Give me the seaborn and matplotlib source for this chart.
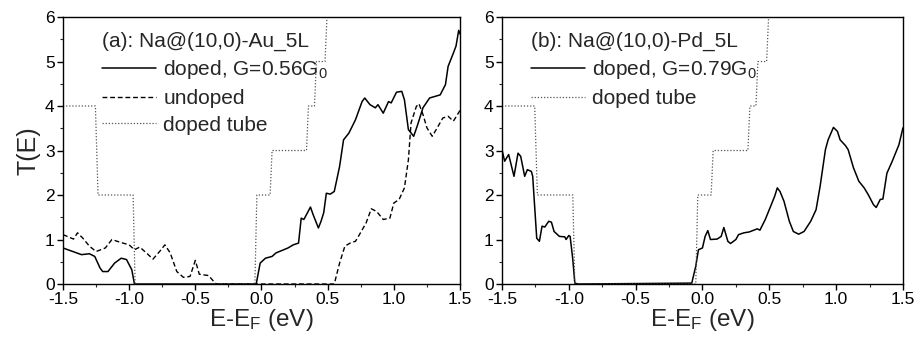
import numpy as np
import matplotlib
matplotlib.use("Agg")
import matplotlib.pyplot as plt
import seaborn as sns
from matplotlib.ticker import MultipleLocator

# --- data ---
# (a) Na@(10,0)-Au_5L, doped
au_doped_x = [-1.50, -1.36, -1.30, -1.26, -1.22, -1.20, -1.16, -1.11, -1.06, -1.02, -0.98, -0.96,
              -0.04, -0.01, 0.03, 0.08, 0.11, 0.16, 0.20, 0.24, 0.28, 0.30, 0.32, 0.34, 0.37, 0.39,
              0.43, 0.45, 0.47, 0.49, 0.52, 0.55, 0.59, 0.62, 0.66, 0.71, 0.76, 0.78, 0.82, 0.86,
              0.88, 0.92, 0.96, 0.98, 1.02, 1.06, 1.08, 1.11, 1.15, 1.18, 1.22, 1.27, 1.35, 1.39,
              1.41, 1.45, 1.47, 1.49, 1.50]
au_doped_y = [0.81, 0.66, 0.68, 0.62, 0.36, 0.28, 0.28, 0.47, 0.58, 0.55, 0.32, 0.00,
              0.00, 0.47, 0.58, 0.62, 0.70, 0.76, 0.81, 0.88, 0.92, 1.48, 1.45, 1.56, 1.73, 1.56,
              1.26, 1.41, 1.60, 2.04, 2.02, 2.08, 2.64, 3.24, 3.39, 3.69, 4.10, 4.18, 4.03, 3.96,
              4.03, 3.84, 4.10, 4.07, 4.31, 4.33, 4.14, 3.47, 3.32, 3.58, 3.96, 4.18, 4.25, 4.48,
              4.89, 5.19, 5.35, 5.70, 5.62]

# (a) undoped
au_undoped_x = [-1.50, -1.46, -1.42, -1.39, -1.35, -1.30, -1.25, -1.18, -1.13, -1.07, -1.00, -0.96,
                -0.92, -0.87, -0.82, -0.77, -0.73, -0.69, -0.64, -0.59, -0.54, -0.50, -0.47, -0.40,
                -0.35, -0.34, 0.55, 0.59, 0.63, 0.67, 0.71, 0.74, 0.79, 0.83, 0.87, 0.92, 0.97,
                1.00, 1.04, 1.08, 1.11, 1.13, 1.17, 1.19, 1.22, 1.25, 1.29, 1.32, 1.37, 1.41,
                1.45, 1.50]
au_undoped_y = [1.11, 1.06, 1.01, 1.15, 1.03, 0.85, 0.73, 0.81, 1.00, 0.94, 0.88, 0.77,
                0.83, 0.70, 0.56, 0.73, 0.88, 0.70, 0.28, 0.15, 0.17, 0.53, 0.22, 0.19,
                0.02, 0.00, 0.00, 0.47, 0.85, 0.92, 0.96, 1.11, 1.37, 1.69, 1.63, 1.45, 1.48,
                1.82, 1.90, 2.16, 2.79, 3.62, 3.99, 4.05, 3.81, 3.51, 3.32, 3.47, 3.73, 3.77,
                3.66, 3.90]

# doped tube (same in both panels)
tube_x = [-1.50, -1.255, -1.235, -0.97, -0.955, -0.05, -0.035, 0.065, 0.08, 0.34, 0.355,
          0.40, 0.415, 0.48, 0.495, 0.51]
tube_y = [4.0, 4.0, 2.0, 2.0, 0.0, 0.0, 2.0, 2.0, 3.0, 3.0, 4.0,
          4.0, 5.0, 5.0, 6.0, 6.5]

# (b) Na@(10,0)-Pd_5L, doped
pd_doped_x = [-1.50, -1.48, -1.45, -1.41, -1.38, -1.36, -1.33, -1.31, -1.28, -1.27, -1.24, -1.22,
              -1.20, -1.18, -1.15, -1.13, -1.11, -1.07, -1.03, -1.02, -1.00, -0.99, -0.97, -0.955,
              -0.93, -0.08, -0.05, -0.03, 0.00, 0.02, 0.04, 0.06, 0.11, 0.14, 0.16, 0.19, 0.21,
              0.25, 0.27, 0.31, 0.35, 0.41, 0.43, 0.47, 0.52, 0.54, 0.56, 0.58, 0.61, 0.65,
              0.68, 0.72, 0.76, 0.81, 0.85, 0.88, 0.92, 0.94, 0.98, 1.01, 1.03, 1.07, 1.09,
              1.13, 1.17, 1.21, 1.24, 1.28, 1.30, 1.33, 1.35, 1.38, 1.42, 1.47, 1.50]
pd_doped_y = [3.02, 2.76, 2.91, 2.42, 2.94, 2.87, 2.42, 2.57, 2.53, 2.42, 1.03, 0.96,
              1.30, 1.28, 1.41, 1.39, 1.18, 1.07, 1.06, 1.00, 1.09, 1.07, 0.55, 0.02,
              0.00, 0.02, 0.40, 0.77, 0.81, 1.07, 1.20, 1.00, 1.01, 1.07, 1.27, 0.96, 0.91,
              1.00, 1.11, 1.15, 1.17, 1.24, 1.21, 1.45, 1.82, 1.97, 2.16, 2.08, 1.86, 1.41,
              1.18, 1.12, 1.18, 1.41, 1.67, 2.19, 3.02, 3.24, 3.52, 3.43, 3.24, 3.11, 3.02,
              2.61, 2.31, 2.16, 2.01, 1.78, 1.72, 1.90, 1.91, 2.49, 2.76, 3.13, 3.51]

panel_titles = ["(a): Na@(10,0)-Au_5L", "(b): Na@(10,0)-Pd_5L"]
x_ticks = [-1.5, -1.0, -0.5, 0.0, 0.5, 1.0, 1.5]

# --- style ---
sns.set_theme(style="ticks")
plt.rcParams["font.family"] = ["Liberation Sans", "DejaVu Sans"]
plt.rcParams["mathtext.default"] = "regular"
plt.rcParams["axes.linewidth"] = 1.0

fig = plt.figure(figsize=(9.18, 3.39), dpi=100)
ax_a = fig.add_axes([0.0686, 0.1622, 0.4325, 0.7876])
ax_b = fig.add_axes([0.5468, 0.1622, 0.4368, 0.7876])

# --- panel (a) ---
sns.lineplot(x=au_doped_x, y=au_doped_y, ax=ax_a, sort=False, estimator=None,
             color="black", linewidth=1.1, label="doped, G=0.56G$_0$")
sns.lineplot(x=au_undoped_x, y=au_undoped_y, ax=ax_a, sort=False, estimator=None,
             color="black", linewidth=1.0, linestyle=(0, (3.5, 2)), label="undoped")
sns.lineplot(x=tube_x, y=tube_y, ax=ax_a, sort=False, estimator=None,
             color="#555555", linewidth=0.9, linestyle=(0, (1, 1.5)), label="doped tube")

# --- panel (b) ---
sns.lineplot(x=pd_doped_x, y=pd_doped_y, ax=ax_b, sort=False, estimator=None,
             color="black", linewidth=1.1, label="doped, G=0.79G$_0$")
sns.lineplot(x=tube_x, y=tube_y, ax=ax_b, sort=False, estimator=None,
             color="#555555", linewidth=0.9, linestyle=(0, (1, 1.5)), label="doped tube")

legend_x = [0.098, 0.072]
for ax, title, lx in zip([ax_a, ax_b], panel_titles, legend_x):
    ax.set_xlim(-1.5, 1.5)
    ax.set_ylim(0, 6)
    ax.yaxis.set_major_locator(MultipleLocator(1))
    ax.yaxis.set_minor_locator(MultipleLocator(0.5))
    ax.set_xticks(x_ticks)
    ax.set_xticklabels([f"{v:.1f}" for v in x_ticks])
    ax.xaxis.set_minor_locator(MultipleLocator(0.25))
    ax.tick_params(which="major", direction="out", length=4.5, width=1, labelsize=12.5,
                   colors="black", top=False, right=False)
    ax.tick_params(axis="x", which="major", pad=1.5)
    ax.tick_params(axis="y", which="major", pad=1.5)
    ax.tick_params(which="minor", direction="out", length=2.5, width=0.8, top=False, right=False)
    for side in ["top", "right", "left", "bottom"]:
        ax.spines[side].set_visible(True)
        ax.spines[side].set_color("black")
    ax.set_xlabel("E-E$_F$ (eV)", fontsize=17.5, labelpad=0)
    leg = ax.legend(title=title, loc="upper left", bbox_to_anchor=(lx, 0.945),
                    frameon=False, fontsize=15, title_fontsize=15, alignment="left",
                    handlelength=2.6, handletextpad=0.35, labelspacing=0.38,
                    borderpad=0, borderaxespad=0)
    leg._legend_box.sep = 5

ax_a.set_ylabel("T(E)", fontsize=18, labelpad=3)
ax_b.set_ylabel("")

fig.savefig("out.png", dpi=100)
